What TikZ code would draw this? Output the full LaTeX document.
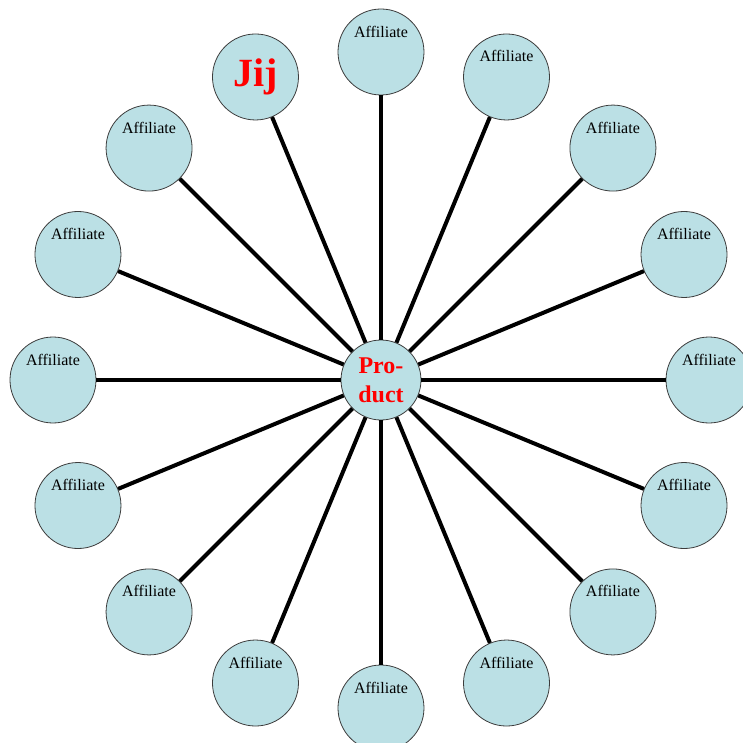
\documentclass[tikz,border=0pt]{standalone}
\usepackage{fontspec}
\setmainfont{Liberation Serif}
\usepackage{tikz}

\definecolor{discfill}{RGB}{187,224,229}
\definecolor{discline}{RGB}{60,60,60}

\begin{document}
\begin{tikzpicture}[
    disc/.style={draw=discline, line width=0.6pt, fill=discfill, circle, minimum size=64.5pt, inner sep=0pt},
    affiliate/.style={disc, label={[yshift=15.4pt, font=\fontsize{12}{14}\selectfont]center:Affiliate}},
    spoke/.style={line width=3pt}
]
    \useasboundingbox (-285.75pt,-272.25pt) rectangle (271.5pt,285pt);

    \node[disc, minimum size=60pt, text=red, align=center, font=\fontsize{18}{21.6}\selectfont\bfseries] (product) at (0,0) {Pro-\\duct};

    \node[disc, text=red, font=\fontsize{30}{36}\selectfont\bfseries] (jij) at (112.5:246pt) {Jij};
    \node[affiliate] (aff1) at (90:246pt) {};
    \node[affiliate] (aff2) at (67.5:246pt) {};
    \node[affiliate] (aff3) at (45:246pt) {};
    \node[affiliate] (aff4) at (22.5:246pt) {};
    \node[affiliate] (aff5) at (0:246pt) {};
    \node[affiliate] (aff6) at (-22.5:246pt) {};
    \node[affiliate] (aff7) at (-45:246pt) {};
    \node[affiliate] (aff8) at (-67.5:246pt) {};
    \node[affiliate] (aff9) at (-90:246pt) {};
    \node[affiliate] (aff10) at (-112.5:246pt) {};
    \node[affiliate] (aff11) at (-135:246pt) {};
    \node[affiliate] (aff12) at (-157.5:246pt) {};
    \node[affiliate] (aff13) at (180:246pt) {};
    \node[affiliate] (aff14) at (157.5:246pt) {};
    \node[affiliate] (aff15) at (135:246pt) {};

    \draw[spoke] (product) -- (jij);
    \draw[spoke] (product) -- (aff1);
    \draw[spoke] (product) -- (aff2);
    \draw[spoke] (product) -- (aff3);
    \draw[spoke] (product) -- (aff4);
    \draw[spoke] (product) -- (aff5);
    \draw[spoke] (product) -- (aff6);
    \draw[spoke] (product) -- (aff7);
    \draw[spoke] (product) -- (aff8);
    \draw[spoke] (product) -- (aff9);
    \draw[spoke] (product) -- (aff10);
    \draw[spoke] (product) -- (aff11);
    \draw[spoke] (product) -- (aff12);
    \draw[spoke] (product) -- (aff13);
    \draw[spoke] (product) -- (aff14);
    \draw[spoke] (product) -- (aff15);
\end{tikzpicture}
\end{document}
